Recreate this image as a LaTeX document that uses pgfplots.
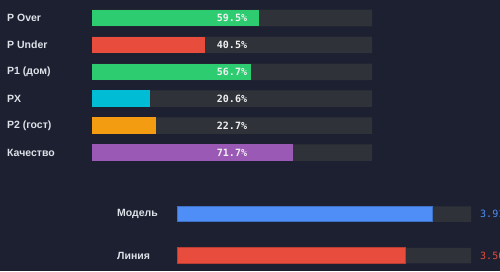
\documentclass[border=0pt]{standalone}
\usepackage{pgfplots}
\pgfplotsset{compat=1.18}
\usepackage{fontspec}
\setmainfont{Liberation Sans}
\newfontfamily\monofont{DejaVu Sans Mono}
\definecolor{bg}{HTML}{1C2030}
\definecolor{track}{HTML}{2F3339}
\definecolor{lbl}{HTML}{DDE1E8}
\definecolor{cgreen}{HTML}{2ECC71}
\definecolor{cred}{HTML}{E74C3C}
\definecolor{ccyan}{HTML}{00BCD4}
\definecolor{corange}{HTML}{F39C12}
\definecolor{cpurple}{HTML}{9B59B6}
\definecolor{cblue}{HTML}{4F8EF7}
\begin{document}
\begin{tikzpicture}
\path[use as bounding box] (0,0) rectangle (500pt,271pt);
\clip (0,0) rectangle (500pt,271pt);
\fill[bg] (0,0) rectangle (500pt,271pt);
% top panel
\begin{axis}[
  at={(92pt,266.45pt)}, anchor=north west,
  scale only axis, width=280pt, height=161.4pt,
  xmin=0, xmax=100, ymin=-0.5, ymax=5.5, y dir=reverse,
  axis line style={draw=none}, major tick length=0pt,
  xtick=\empty, ytick={0,1,2,3,4,5},
  yticklabels={P Over, P Under, P1 (дом), PX, P2 (гост), Качество},
  yticklabel style={anchor=west, inner sep=0pt, xshift=-85pt, font=\fontsize{10.5}{12}\selectfont\bfseries, text=lbl},
  clip=false,
  xbar, bar width=16.5pt, bar shift=0pt,
]
\addplot[fill=track, draw=none] coordinates {(100,0) (100,1) (100,2) (100,3) (100,4) (100,5)};
\addplot[fill=cgreen, draw=none] coordinates {(59.5,0)};
\addplot[fill=cred, draw=none] coordinates {(40.5,1)};
\addplot[fill=cgreen, draw=none] coordinates {(56.7,2)};
\addplot[fill=ccyan, draw=none] coordinates {(20.6,3)};
\addplot[fill=corange, draw=none] coordinates {(22.7,4)};
\addplot[fill=cpurple, draw=none] coordinates {(71.7,5)};
\addplot[draw=none, mark=none, xbar=false, nodes near coords, point meta=explicit symbolic,
  nodes near coords style={anchor=center, text=white!94!black, font=\monofont\fontsize{10}{12}\selectfont\bfseries}]
  coordinates {(50,0) [59.5\%] (50,1) [40.5\%] (50,2) [56.7\%] (50,3) [20.6\%] (50,4) [22.7\%] (50,5) [71.7\%]};
\end{axis}
% bottom panel
\begin{axis}[
  at={(177pt,77.75pt)}, anchor=north west,
  scale only axis, width=294pt, height=83pt,
  xmin=0, xmax=4.5, ymin=-0.5, ymax=1.5, y dir=reverse,
  axis line style={draw=none}, major tick length=0pt,
  xtick=\empty, ytick={0,1},
  yticklabels={Модель, Линия},
  yticklabel style={anchor=west, inner sep=0pt, xshift=-60pt, font=\fontsize{10.5}{12}\selectfont\bfseries, text=lbl},
  clip=false,
  xbar, bar width=15.5pt, bar shift=0pt,
]
\addplot[fill=track, draw=none] coordinates {(4.5,0) (4.5,1)};
\addplot[fill=cblue, draw=cblue!80!black, line width=0.6pt] coordinates {(3.91,0)};
\addplot[fill=cred, draw=cred!80!black, line width=0.6pt] coordinates {(3.50,1)};
\addplot[draw=none, mark=none, xbar=false, nodes near coords, point meta=explicit symbolic,
  nodes near coords style={anchor=west, inner sep=0pt, text=cblue, font=\monofont\fontsize{10}{12}\selectfont}]
  coordinates {(4.638,0) [3.91]};
\addplot[draw=none, mark=none, xbar=false, nodes near coords, point meta=explicit symbolic,
  nodes near coords style={anchor=west, inner sep=0pt, text=cred, font=\monofont\fontsize{10}{12}\selectfont}]
  coordinates {(4.638,1) [3.50]};
\end{axis}
\end{tikzpicture}
\end{document}
